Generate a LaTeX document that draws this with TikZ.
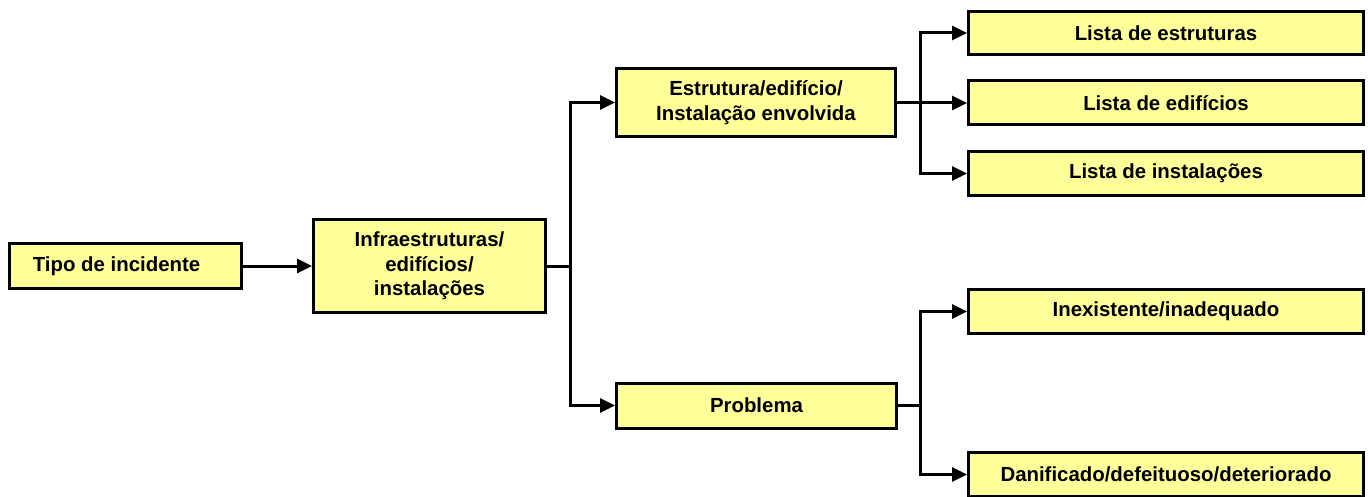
\documentclass[tikz,border=0pt]{standalone}
\usepackage{fontspec}
\setmainfont{Liberation Sans}
\usetikzlibrary{arrows.meta}
\definecolor{boxyellow}{HTML}{FFFF99}
\tikzset{
  box/.style={draw=black, line width=3pt, fill=boxyellow, align=center, inner sep=0pt,
    font=\bfseries\fontsize{20.4}{24.5}\selectfont},
  conn/.style={draw=black, line width=3pt, line join=miter},
  arr/.style={conn, -{Triangle[length=15pt,width=14pt]}}
}
\begin{document}
\begin{tikzpicture}[x=1pt,y=-1pt]
\useasboundingbox (0,0) rectangle (1368,497);
\clip (0,0) rectangle (1368,497);
\node[box, minimum width=232pt, minimum height=45pt] (b1) at (125.5,266) {Tipo de incidente\hspace*{18pt}};
\node[box, minimum width=232pt, minimum height=92pt] (b2) at (429.5,266) {Infraestruturas/\\edifícios/\\instalações};
\node[box, minimum width=279pt, minimum height=68pt] (b3) at (756,102.5) {Estrutura/edifício/\\Instalação envolvida};
\node[box, minimum width=280pt, minimum height=45pt] (b4) at (756.5,405.5) {Problema};
\node[box, minimum width=395pt, minimum height=43pt] (l1) at (1166,33) {Lista de estruturas};
\node[box, minimum width=395pt, minimum height=44pt] (l2) at (1166,103) {Lista de edifícios};
\node[box, minimum width=395pt, minimum height=44pt] (l3) at (1166,173.5) {Lista de instalações};
\node[box, minimum width=395pt, minimum height=44pt] (p1) at (1166,311.5) {Inexistente/inadequado};
\node[box, minimum width=395pt, minimum height=44pt] (p2) at (1166,474.5) {Danificado/defeituoso/deteriorado};

\draw[arr] (b1) -- (b2);
\draw[conn] (b2.east) -- (570,266) coordinate (j1);
\draw[arr] (j1) |- (b3.west);
\draw[arr] (j1) |- (b4.west);

\draw[conn] (b3.east) -- (920,102.5) coordinate (j2);
\draw[arr] (j2) |- (l1.west);
\draw[arr] (j2) |- (l2.west);
\draw[arr] (j2) |- (l3.west);

\draw[conn] (b4.east) -- (920,405.5) coordinate (j3);
\draw[arr] (j3) |- (p1.west);
\draw[arr] (j3) |- (p2.west);
\end{tikzpicture}
\end{document}
